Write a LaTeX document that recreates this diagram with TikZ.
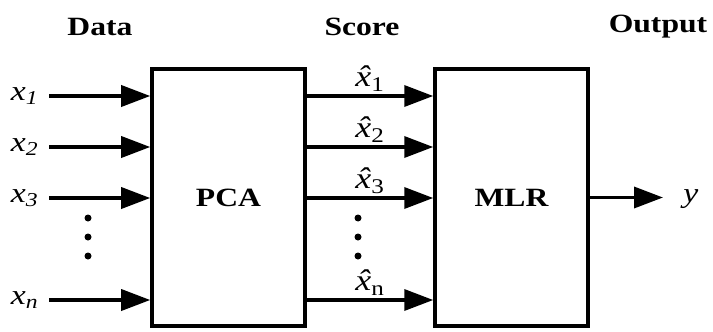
\documentclass[tikz,border=0pt]{standalone}
\usepackage{fontspec}
\setmainfont{Liberation Serif}[FakeStretch=1.2]
\usetikzlibrary{arrows.meta,positioning}

\newcommand\xh{\textit{\accent"02C6 x}}

\begin{document}
\begin{tikzpicture}[
  x=0.2mm, y=-0.2mm,
  every node/.style={font=\fontsize{15}{18}\selectfont},
  blk/.style={draw, line width=2pt, minimum width=30.6mm, minimum height=51.4mm,
              font=\fontsize{15}{18}\selectfont\bfseries},
  head/.style={font=\fontsize{15}{18}\selectfont\bfseries},
  lbl/.style={inner sep=0pt, font=\fontsize{16}{18}\selectfont},
  sc/.style={midway, above=0.6mm, inner sep=0pt, font=\fontsize{17}{18}\selectfont},
  arr/.style={-{Triangle[length=5.8mm,width=4.2mm]}, line width=2pt},
]
  \useasboundingbox (0,0) rectangle (713,331);
  \node[blk] (pca) at (228.5,197.5) {PCA};
  \node[blk] (mlr) at (511.5,197.5) {MLR};
  \node[head] (data) at (100,27) {Data};
  \node[head] (score) at (362,27) {Score};
  \node[head] (out) at (658,27) {Output};
  \node[lbl, anchor=mid east] (x1) at (39,96) {\textit{x\textsubscript{1}}};
  \node[lbl, anchor=mid east] (x2) at (39,147) {\textit{x\textsubscript{2}}};
  \node[lbl, anchor=mid east] (x3) at (39,198) {\textit{x\textsubscript{3}}};
  \node[lbl, anchor=mid east] (xn) at (39,300) {\textit{x\textsubscript{n}}};
  \node[lbl, anchor=mid west] (y) at (683,198) {\textit{y}};
  \draw[arr, shorten <=2mm] (x1.mid east) -- (x1.mid -| pca.west);
  \draw[arr, shorten <=2mm] (x2.mid east) -- (x2.mid -| pca.west);
  \draw[arr, shorten <=2mm] (x3.mid east) -- (x3.mid -| pca.west);
  \draw[arr, shorten <=2mm] (xn.mid east) -- (xn.mid -| pca.west);
  \draw[arr] (x1.mid -| pca.east) -- (x1.mid -| mlr.west) node[sc] {\xh\textsubscript{1}};
  \draw[arr] (x2.mid -| pca.east) -- (x2.mid -| mlr.west) node[sc] {\xh\textsubscript{2}};
  \draw[arr] (x3.mid -| pca.east) -- (x3.mid -| mlr.west) node[sc] {\xh\textsubscript{3}};
  \draw[arr] (xn.mid -| pca.east) -- (xn.mid -| mlr.west) node[sc] {\xh\textsubscript{n}};
  \draw[arr, shorten >=4mm] (mlr.east) -- (mlr.east -| y.west);
  \foreach \d in {218,237,256} {
    \fill (88,\d) circle[radius=0.7mm];
    \fill (358,\d) circle[radius=0.7mm];
  }
\end{tikzpicture}
\end{document}
